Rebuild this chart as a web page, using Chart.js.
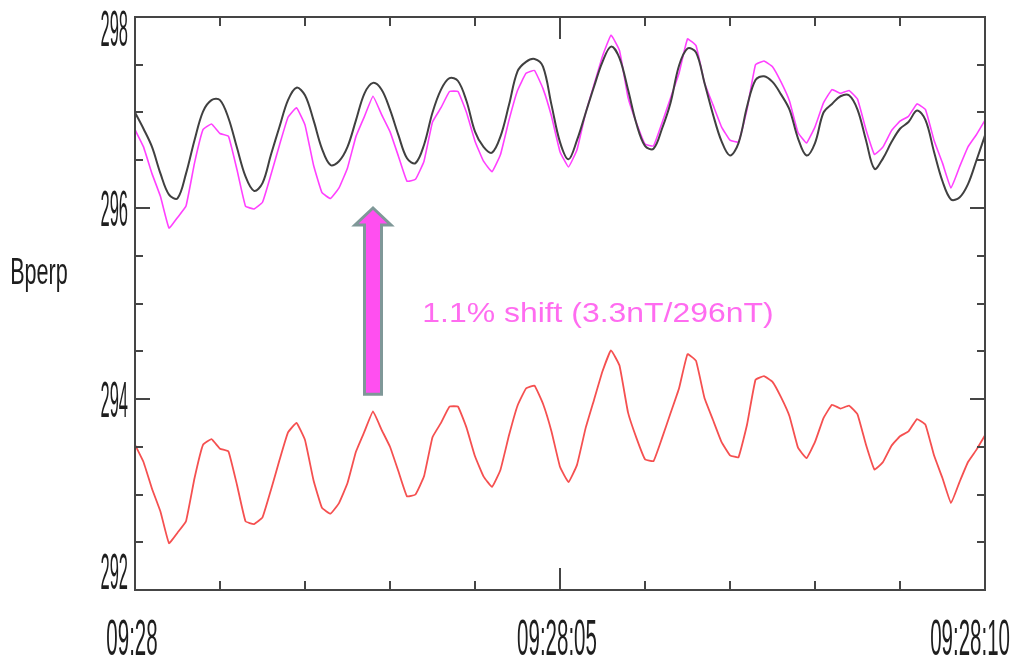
<!DOCTYPE html>
<html>
<head>
<meta charset="utf-8">
<title>Bperp</title>
<script src="https://cdn.jsdelivr.net/npm/chart.js@4.4.1/dist/chart.umd.min.js"></script>
<style>
    html, body { margin: 0; background: #fff; }
    canvas { display: block; }
</style>
</head>
<body>
<canvas id="bperpChart" width="1017" height="663"></canvas>
<script>
// seconds after 09:28:00
const seconds = [
    0.0, 0.1, 0.2, 0.3, 0.4, 0.5, 0.6, 0.7, 0.8, 0.9,
    1.0, 1.1, 1.2, 1.3, 1.4, 1.5, 1.6, 1.7, 1.8, 1.9,
    2.0, 2.1, 2.2, 2.3, 2.4, 2.5, 2.6, 2.7, 2.8, 2.9,
    3.0, 3.1, 3.2, 3.3, 3.4, 3.5, 3.6, 3.7, 3.8, 3.9,
    4.0, 4.1, 4.2, 4.3, 4.4, 4.5, 4.6, 4.7, 4.8, 4.9,
    5.0, 5.1, 5.2, 5.3, 5.4, 5.5, 5.6, 5.7, 5.8, 5.9,
    6.0, 6.1, 6.2, 6.3, 6.4, 6.5, 6.6, 6.7, 6.8, 6.9,
    7.0, 7.1, 7.2, 7.3, 7.4, 7.5, 7.6, 7.7, 7.8, 7.9,
    8.0, 8.1, 8.2, 8.3, 8.4, 8.5, 8.6, 8.7, 8.8, 8.9,
    9.0, 9.1, 9.2, 9.3, 9.4, 9.5, 9.6, 9.7, 9.8, 9.9,
    10.0
];

// reference field (black)
const bperpRef = [
    297.00, 296.83, 296.64, 296.36, 296.14, 296.10, 296.36, 296.71, 297.01, 297.13,
    297.13, 296.94, 296.63, 296.33, 296.18, 296.26, 296.56, 296.85, 297.13, 297.26,
    297.18, 296.92, 296.62, 296.45, 296.49, 296.64, 296.92, 297.20, 297.31, 297.24,
    297.03, 296.76, 296.52, 296.47, 296.66, 297.00, 297.24, 297.36, 297.33, 297.12,
    296.80, 296.64, 296.58, 296.75, 297.08, 297.43, 297.53, 297.56, 297.48, 297.08,
    296.69, 296.51, 296.71, 296.99, 297.27, 297.53, 297.69, 297.57, 297.24, 296.88,
    296.65, 296.62, 296.83, 297.10, 297.49, 297.67, 297.63, 297.31, 296.98, 296.70,
    296.55, 296.68, 297.06, 297.34, 297.38, 297.32, 297.19, 297.03, 296.73, 296.55,
    296.68, 297.00, 297.09, 297.17, 297.18, 297.03, 296.71, 296.41, 296.52, 296.69,
    296.83, 296.90, 297.02, 296.92, 296.59, 296.28, 296.09, 296.11, 296.25, 296.50,
    296.76
];

// measured field (red)
const bperpMeas = [
    293.52, 293.34, 293.06, 292.82, 292.49, 292.60, 292.72, 293.17, 293.52, 293.58,
    293.48, 293.45, 293.10, 292.72, 292.69, 292.76, 293.05, 293.36, 293.65, 293.75,
    293.57, 293.15, 292.86, 292.80, 292.91, 293.12, 293.45, 293.66, 293.87, 293.68,
    293.50, 293.24, 292.98, 293.00, 293.19, 293.60, 293.75, 293.92, 293.92, 293.70,
    293.40, 293.19, 293.08, 293.26, 293.62, 293.93, 294.11, 294.14, 293.95, 293.66,
    293.29, 293.13, 293.31, 293.69, 293.99, 294.29, 294.51, 294.35, 293.86, 293.59,
    293.37, 293.35, 293.59, 293.85, 294.11, 294.47, 294.40, 294.01, 293.78, 293.55,
    293.41, 293.39, 293.73, 294.20, 294.24, 294.18, 294.02, 293.82, 293.49, 293.38,
    293.55, 293.80, 293.94, 293.90, 293.93, 293.84, 293.52, 293.26, 293.34, 293.51,
    293.61, 293.66, 293.79, 293.73, 293.41, 293.17, 292.91, 293.13, 293.34, 293.47,
    293.62
];

// measured field moved up by 3.3 nT (magenta)
const bperpShifted = [
    296.82, 296.64, 296.36, 296.12, 295.79, 295.90, 296.02, 296.47, 296.82, 296.88,
    296.78, 296.75, 296.40, 296.02, 295.99, 296.06, 296.35, 296.66, 296.95, 297.05,
    296.87, 296.45, 296.16, 296.10, 296.21, 296.42, 296.75, 296.96, 297.17, 296.98,
    296.80, 296.54, 296.28, 296.30, 296.49, 296.90, 297.05, 297.22, 297.22, 297.00,
    296.70, 296.49, 296.38, 296.56, 296.92, 297.23, 297.41, 297.44, 297.25, 296.96,
    296.59, 296.43, 296.61, 296.99, 297.29, 297.59, 297.81, 297.65, 297.16, 296.89,
    296.67, 296.65, 296.89, 297.15, 297.41, 297.77, 297.70, 297.31, 297.08, 296.85,
    296.71, 296.69, 297.03, 297.50, 297.54, 297.48, 297.32, 297.12, 296.79, 296.68,
    296.85, 297.10, 297.24, 297.20, 297.23, 297.14, 296.82, 296.56, 296.64, 296.81,
    296.91, 296.96, 297.09, 297.03, 296.71, 296.47, 296.21, 296.43, 296.64, 296.77,
    296.92
];

const xMajorTicks = [0, 5, 10];
const xTickLabels = ['09:28', '09:28:05', '09:28:10'];
const xMinorTicks = [1, 2, 3, 4, 6, 7, 8, 9];
const yMajorTicks = [292, 294, 296, 298];
const yTickLabels = ['292', '294', '296', '298'];
const yMinorTicks = [292.5, 293, 293.5, 294.5, 295, 295.5, 296.5, 297, 297.5];

const shiftText = '1.1% shift (3.3nT/296nT)';
const arrowAt = { x: 2.8, from: 294.05, to: 296.0 };
const textAt = { x: 3.38, y: 294.81 };

const toPoints = (vals) => vals.map((v, i) => ({ x: seconds[i], y: v }));

const labelFont = (size) => size + 'px "Liberation Sans", Arial, sans-serif';

// squeezed text, like the narrow axis lettering
function narrowText(ctx, text, x, y, size, sx, align) {
    ctx.save();
    ctx.font = labelFont(size);
    ctx.textAlign = align;
    ctx.textBaseline = 'alphabetic';
    ctx.translate(x, y);
    ctx.scale(sx, 1);
    ctx.fillText(text, 0, 0);
    ctx.restore();
}

const framePlugin = {
    id: 'framePlugin',
    afterDatasetsDraw(chart) {
        const { ctx, chartArea: a, scales } = chart;
        const xs = scales.x, ys = scales.y;

        ctx.save();
        ctx.strokeStyle = '#454545';
        ctx.lineWidth = 2;
        ctx.strokeRect(a.left, a.top, a.right - a.left, a.bottom - a.top);

        // tick marks point into the plot on all four sides
        ctx.beginPath();
        xMajorTicks.concat(xMinorTicks).forEach(t => {
            const px = Math.round(xs.getPixelForValue(t));
            const len = xMajorTicks.includes(t) ? 22 : 9;
            ctx.moveTo(px, a.bottom); ctx.lineTo(px, a.bottom - len);
            ctx.moveTo(px, a.top); ctx.lineTo(px, a.top + len);
        });
        yMajorTicks.concat(yMinorTicks).forEach(v => {
            const py = Math.round(ys.getPixelForValue(v));
            const len = yMajorTicks.includes(v) ? 15 : 8;
            ctx.moveTo(a.left, py); ctx.lineTo(a.left + len, py);
            ctx.moveTo(a.right, py); ctx.lineTo(a.right - len, py);
        });
        ctx.stroke();

        // tick labels, kept inside the canvas at the ends
        ctx.fillStyle = '#1e1e1e';
        const size = 50;
        ctx.font = labelFont(size);
        xMajorTicks.forEach((t, i) => {
            const half = ctx.measureText(xTickLabels[i]).width * 0.41 / 2;
            const cx = Math.min(xs.getPixelForValue(t) - 3, chart.width - 7 - half);
            narrowText(ctx, xTickLabels[i], cx, 655, size, 0.41, 'center');
        });
        yMajorTicks.forEach((v, i) => {
            const cy = Math.max(a.top + 11, Math.min(a.bottom - 19, ys.getPixelForValue(v)));
            narrowText(ctx, yTickLabels[i], 128, cy + 18, size, 0.33, 'right');
        });
        narrowText(ctx, 'Bperp', 39, 284, 36, 0.6, 'center');

        // arrow marking the shift
        const ax = xs.getPixelForValue(arrowAt.x);
        const yBase = ys.getPixelForValue(arrowAt.from);
        const yTip = ys.getPixelForValue(arrowAt.to);
        ctx.beginPath();
        ctx.moveTo(ax - 8.5, yBase);
        ctx.lineTo(ax - 8.5, yTip + 17);
        ctx.lineTo(ax - 18, yTip + 17);
        ctx.lineTo(ax, yTip);
        ctx.lineTo(ax + 18, yTip + 17);
        ctx.lineTo(ax + 8.5, yTip + 17);
        ctx.lineTo(ax + 8.5, yBase);
        ctx.closePath();
        ctx.fillStyle = '#ff4ff0';
        ctx.fill();
        ctx.strokeStyle = '#7f9898';
        ctx.lineWidth = 3;
        ctx.stroke();

        ctx.fillStyle = '#ff6cf0';
        ctx.font = labelFont(28);
        ctx.textAlign = 'left';
        ctx.translate(xs.getPixelForValue(textAt.x), ys.getPixelForValue(textAt.y));
        ctx.scale(1.14, 1);
        ctx.fillText(shiftText, 0, 0);

        ctx.restore();
    }
};

new Chart(document.getElementById('bperpChart'), {
    type: 'line',
    data: {
        datasets: [
            {
                label: 'ref',
                data: toPoints(bperpRef),
                borderColor: '#404040',
                borderWidth: 2,
                tension: 0.35,
                pointRadius: 0
            },
            {
                label: 'shifted',
                data: toPoints(bperpShifted),
                borderColor: '#ff40ff',
                borderWidth: 1.6,
                tension: 0.1,
                pointRadius: 0
            },
            {
                label: 'measured',
                data: toPoints(bperpMeas),
                borderColor: '#f55050',
                borderWidth: 1.8,
                tension: 0.1,
                pointRadius: 0
            }
        ]
    },
    options: {
        responsive: false,
        animation: false,
        layout: { padding: { left: 135, right: 32, top: 17, bottom: 73 } },
        plugins: { legend: { display: false }, tooltip: { enabled: false } },
        scales: {
            x: { type: 'linear', min: 0, max: 10, display: false },
            y: { type: 'linear', min: 292, max: 298, display: false }
        }
    },
    plugins: [framePlugin]
});
</script>
</body>
</html>
